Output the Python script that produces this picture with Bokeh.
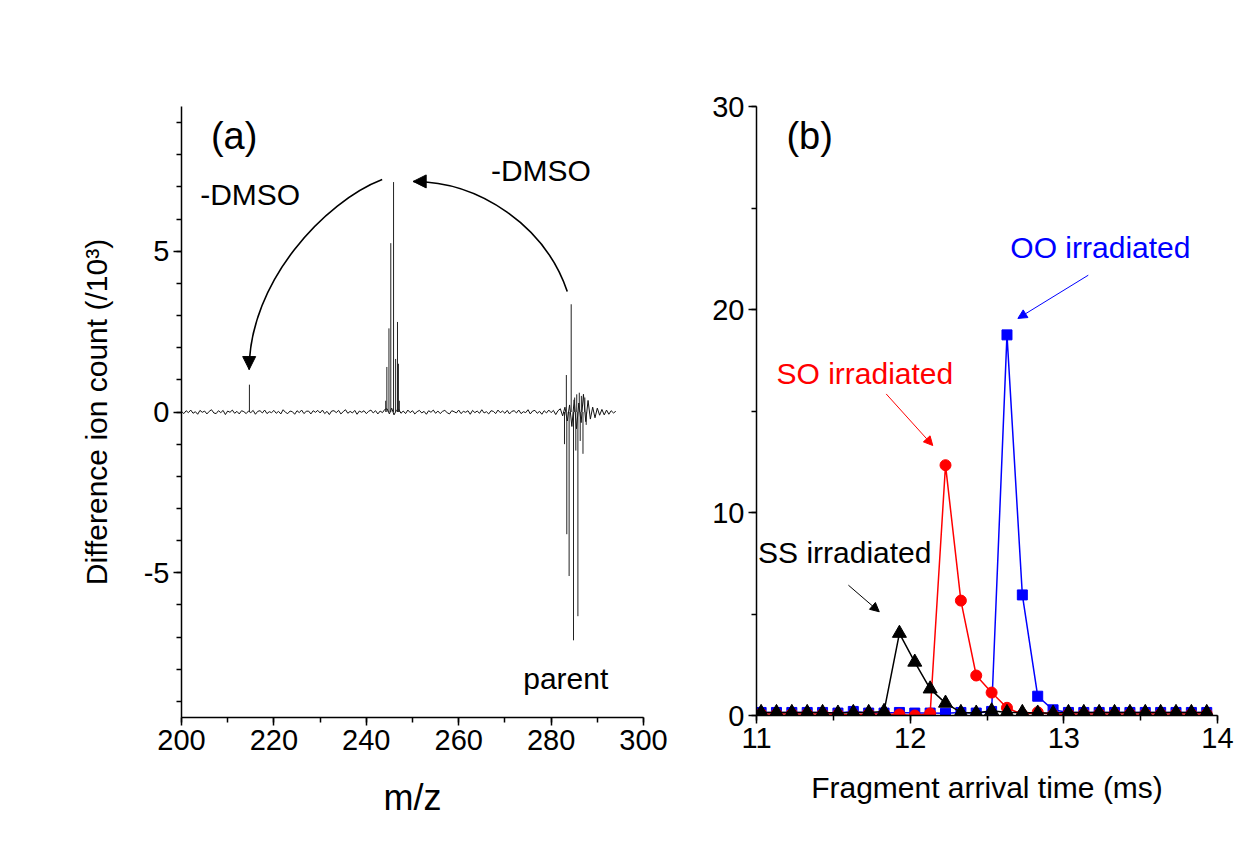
import numpy as np
from bokeh.plotting import figure
from bokeh.layouts import row
from bokeh.models import FixedTicker, Arrow, NormalHead, Label, Range1d
from bokeh.embed import file_html
from bokeh.resources import INLINE

FONT = "Liberation Sans"

# ---------------- panel (a): difference mass spectrum ----------------
# baseline trace sampled every 0.5 m/z from 200 to 294 (counts / 10^3)
spec_mz = np.arange(200.0, 294.01, 0.5)
spec_noise = [
    0.02, -0.05, 0.04, -0.02, 0.06, -0.04, 0.01, -0.07, 0.05, -0.01, 0.03, -0.06, 0.02, 0.07, -0.03, -0.05, 0.04, -0.02, 0.05, -0.08,
    0.03, -0.01, 0.06, -0.04, 0.02, -0.06, 0.04, 0.01, -0.05, 0.03, -0.02, 0.05, -0.07, 0.02, 0.04, -0.03, 0.06, -0.05, 0.01, -0.02,
    0.05, -0.04, 0.02, -0.06, 0.07, -0.01, -0.05, 0.03, 0.01, -0.07, 0.04, -0.02, 0.06, -0.05, 0.02, 0.03, -0.06, 0.04, -0.01, 0.05,
    -0.03, 0.06, -0.05, 0.02, -0.08, 0.03, 0.04, -0.02, 0.05, -0.06, 0.01, 0.07, -0.04, 0.02, -0.03, 0.05, -0.07, 0.03, -0.01, 0.04,
    -0.05, 0.02, 0.06, -0.03, 0.04, -0.06, 0.03, -0.02, 0.08, 0.10, -0.06, 0.12, -0.09, 0.05, 0.09, -0.04, 0.03, -0.05, 0.06, -0.02,
    0.04, -0.06, 0.01, 0.05, -0.03, 0.02, -0.07, 0.04, -0.01, 0.06, -0.04, 0.03, -0.05, 0.02, 0.05, -0.02, -0.06, 0.04, 0.01, -0.03,
    0.06, -0.05, 0.02, -0.01, 0.04, -0.07, 0.05, -0.02, 0.03, -0.04, 0.07, -0.03, 0.01, -0.06, 0.04, 0.02, -0.05, 0.06, -0.02, 0.03,
    -0.04, 0.05, -0.06, 0.02, 0.04, -0.03, 0.06, -0.05, 0.01, -0.02, 0.07, -0.06, 0.03, 0.05, -0.04, 0.02, -0.07, 0.04, -0.03, 0.06,
    -0.02, 0.05, -0.08, 0.04, 0.10, -0.12, 0.15, -0.28, 0.22, -0.45, 0.38, -0.52, 0.28, -0.33, 0.55, -0.30, 0.36, -0.22, 0.15, -0.18,
    0.12, -0.10, 0.08, -0.09, 0.06, -0.07, 0.04, -0.03, 0.02,
]

# individual ion peaks (m/z, difference count / 10^3)
peak_mz = [214.7,
           244.2, 244.45, 244.9, 245.3, 245.9, 246.35, 246.75, 246.95, 247.15,
           282.9, 283.3, 283.4, 283.9, 284.35, 284.85, 285.1, 285.35, 285.55,
           285.8, 286.1, 286.3, 286.55, 286.9, 287.3, 287.6]
peak_val = [0.85,
            0.35, 1.4, 2.6, 5.25, 7.15, 1.65, 2.8, 1.5, 0.35,
            -1.0, 1.15, -3.8, -5.1, 3.35, -7.1, 0.45, -1.2, 0.55,
            -6.35, 0.6, -0.9, 0.5, -1.3, 0.45, -0.4]

pa = figure(frame_width=462, frame_height=611,
            min_border_left=181, min_border_right=57,
            min_border_top=105, min_border_bottom=150,
            x_range=Range1d(200, 300), y_range=Range1d(-9.5, 9.5),
            output_backend="svg", toolbar_location=None,
            background_fill_color="white", border_fill_color="white")

pa.line(spec_mz, spec_noise, line_color="#111111", line_width=1)
pa.segment(x0=peak_mz, y0=[0] * len(peak_mz), x1=peak_mz, y1=peak_val,
           line_color="#222222", line_width=1)

pa.xaxis.ticker = FixedTicker(ticks=[200, 220, 240, 260, 280, 300],
                              minor_ticks=list(range(200, 301, 10)))
pa.yaxis.ticker = FixedTicker(ticks=[-5, 0, 5], minor_ticks=list(range(-9, 10)))
pa.yaxis.major_label_overrides = {-5: "-5", 0: "0", 5: "5"}
pa.xaxis.axis_label = "m/z"
pa.yaxis.axis_label = "Difference ion count (/10³)"
pa.xaxis.axis_label_text_font_size = "36px"
pa.yaxis.axis_label_text_font_size = "30px"
pa.xaxis.axis_label_standoff = 24
pa.yaxis.axis_label_standoff = 28

# curved "-DMSO" arrows
pa.bezier(x0=[243.44, 283.5], y0=[7.23, 3.75],
          x1=[214.65, 250.15], y1=[1.32, 7.17],
          cx0=[231.1, 278.7], cy0=[6.55, 5.77],
          cx1=[214.65, 264.65], cy1=[4.06, 7.17],
          line_color="black", line_width=1.6)
pa.add_layout(Arrow(end=NormalHead(size=13, fill_color="black", line_color="black"),
                    x_start=214.65, y_start=1.7, x_end=214.65, y_end=1.32,
                    line_color="black", line_width=1.6))
pa.add_layout(Arrow(end=NormalHead(size=13, fill_color="black", line_color="black"),
                    x_start=251.5, y_start=7.17, x_end=250.15, y_end=7.17,
                    line_color="black", line_width=1.6))

for txt, x, y, size, base in [("(a)", 206.36, 8.57, "38px", "middle"),
                              ("-DMSO", 204.05, 6.77, "30px", "middle"),
                              ("-DMSO", 266.97, 7.51, "30px", "middle"),
                              ("parent", 273.96, -8.29, "30px", "alphabetic")]:
    pa.add_layout(Label(x=x, y=y, text=txt, text_font=FONT, text_font_size=size,
                        text_baseline=base, text_align="left", text_color="black"))

# ---------------- panel (b): fragment arrival times ----------------
t_ms = [11.03, 11.13, 11.23, 11.33, 11.43, 11.53, 11.63, 11.73, 11.83, 11.93,
        12.03, 12.13, 12.23, 12.33, 12.43, 12.53, 12.63, 12.73, 12.83, 12.93,
        13.03, 13.13, 13.23, 13.33, 13.43, 13.53, 13.63, 13.73, 13.83, 13.93]
oo_counts = [0.15, 0.15, 0.15, 0.15, 0.15, 0.12, 0.2, 0.12, 0.12, 0.15,
             0.12, 0.12, 0.11, 0.15, 0.12, 0.2, 18.75, 5.94, 0.95, 0.28,
             0.15, 0.15, 0.15, 0.15, 0.15, 0.15, 0.15, 0.15, 0.15, 0.15]
so_counts = [0.08, 0.08, 0.08, 0.08, 0.08, 0.06, 0.05, 0.08, 0.08, 0.05,
             0.0, 0.1, 12.33, 5.66, 1.97, 1.13, 0.38, 0.05, 0.16, 0.05,
             0.08, 0.08, 0.08, 0.08, 0.08, 0.08, 0.08, 0.08, 0.08, 0.08]
ss_counts = [0.15, 0.15, 0.15, 0.15, 0.15, 0.12, 0.15, 0.15, 0.2, 4.05,
             2.63, 1.31, 0.61, 0.15, 0.12, 0.23, 0.15, 0.15, 0.12, 0.12,
             0.15, 0.15, 0.15, 0.15, 0.15, 0.15, 0.15, 0.15, 0.15, 0.15]

pb = figure(frame_width=461, frame_height=609,
            min_border_left=56, min_border_right=27,
            min_border_top=106, min_border_bottom=151,
            x_range=Range1d(11, 14), y_range=Range1d(0, 30),
            output_backend="svg", toolbar_location=None,
            background_fill_color="white", border_fill_color="white")

pb.line(t_ms, oo_counts, line_color="#0000ff", line_width=1.5)
pb.scatter(t_ms, oo_counts, marker="square", size=10, fill_color="#0000ff", line_color="#0000ff")
pb.line(t_ms, so_counts, line_color="#ff0000", line_width=1.5)
pb.scatter(t_ms, so_counts, marker="circle", size=11, fill_color="#ff0000", line_color="#ff0000")
pb.line(t_ms, ss_counts, line_color="black", line_width=1.5)
pb.scatter(t_ms, ss_counts, marker="triangle", size=14, fill_color="black", line_color="black")

pb.xaxis.ticker = FixedTicker(ticks=[11, 12, 13, 14], minor_ticks=[11, 11.5, 12, 12.5, 13, 13.5, 14])
pb.yaxis.ticker = FixedTicker(ticks=[0, 10, 20, 30], minor_ticks=[0, 5, 10, 15, 20, 25, 30])
pb.xaxis.axis_label = "Fragment arrival time (ms)"
pb.xaxis.axis_label_text_font_size = "30px"
pb.xaxis.axis_label_standoff = 20

for txt, x, y, size, color in [("(b)", 11.195, 28.55, "38px", "black"),
                               ("OO irradiated", 12.652, 23.03, "30px", "#0000ff"),
                               ("SO irradiated", 11.13, 16.87, "30px", "#ff0000"),
                               ("SS irradiated", 11.01, 8.03, "30px", "black")]:
    pb.add_layout(Label(x=x, y=y, text=txt, text_font=FONT, text_font_size=size,
                        text_baseline="middle", text_align="left", text_color=color))

for (xs, ys, xe, ye, col) in [(13.159, 21.69, 12.701, 19.56, "#0000ff"),
                              (11.844, 15.84, 12.147, 13.30, "#ff0000"),
                              (11.598, 6.42, 11.799, 5.11, "black")]:
    pb.add_layout(Arrow(end=NormalHead(size=9, fill_color=col, line_color=col),
                        x_start=xs, y_start=ys, x_end=xe, y_end=ye,
                        line_color=col, line_width=1))

# shared axis styling
for p in (pa, pb):
    p.xgrid.visible = False
    p.ygrid.visible = False
    p.outline_line_color = None
    for ax in (p.xaxis, p.yaxis):
        ax.axis_line_color = "black"
        ax.axis_line_width = 1.5
        ax.major_tick_line_color = "black"
        ax.major_tick_line_width = 1.5
        ax.minor_tick_line_color = "black"
        ax.minor_tick_line_width = 1.5
        ax.major_tick_in = 0
        ax.major_tick_out = 8
        ax.minor_tick_in = 0
        ax.minor_tick_out = 5
        ax.major_label_text_font = FONT
        ax.major_label_text_font_size = "29px"
        ax.major_label_text_color = "black"
        ax.major_label_standoff = 4
        ax.axis_label_text_font = FONT
        ax.axis_label_text_font_style = "normal"
        ax.axis_label_text_color = "black"

layout = row(pa, pb)
open("out.html", "w").write(file_html(layout, INLINE))
